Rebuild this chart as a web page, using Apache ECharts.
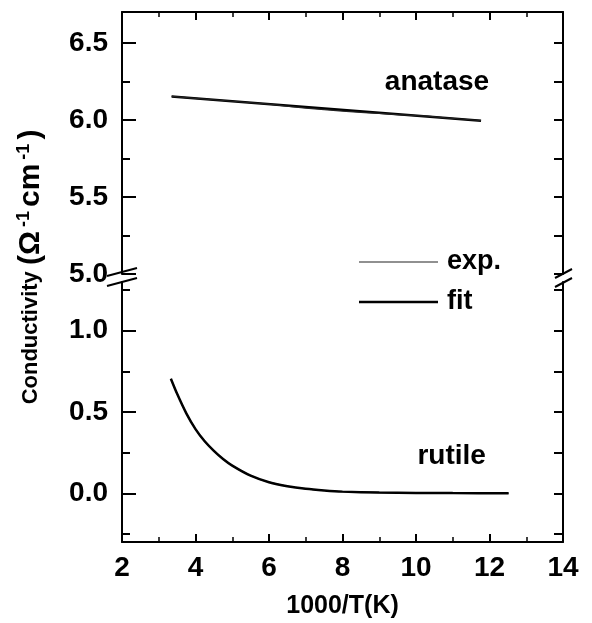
<!DOCTYPE html>
<html><head><meta charset="utf-8">
<script src="https://cdn.jsdelivr.net/npm/echarts@6/dist/echarts.min.js"></script>
<style>html,body{margin:0;padding:0;background:#fff}#c{width:592px;height:623px}</style>
</head><body><div id="c"></div>
<script>
// ---- data ----
const xTickLabels = [2, 4, 6, 8, 10, 12, 14];
const yUpperMajor = [5.0, 5.5, 6.0, 6.5];
const yUpperMinor = [5.25, 5.75, 6.25];
const yLowerMajor = [0.0, 0.5, 1.0];
const yLowerMinor = [-0.25, 0.25, 0.75, 1.25];

const anataseFitX = [3.35, 11.77];
const anataseFitY = [6.151, 5.995];
const anataseExpX = [3.35, 4.0, 5.0, 6.0, 6.6, 7.0, 7.5, 8.0, 8.6, 9.0, 9.5, 10.0, 10.3, 10.8, 11.3, 11.77];
const anataseExpY = [6.152, 6.140, 6.121, 6.102, 6.086, 6.076, 6.066, 6.057, 6.047, 6.042, 6.034, 6.028, 6.025, 6.013, 6.004, 5.995];

const rutileX = [3.33, 3.5, 3.75, 4.0, 4.25, 4.5, 4.75, 5.0, 5.5, 6.0, 6.5, 7.0, 7.5, 8.0, 9.0, 10.0, 11.0, 12.52];
const rutileFitY = [0.705, 0.612, 0.492, 0.395, 0.320, 0.261, 0.211, 0.170, 0.108, 0.068, 0.043, 0.027, 0.017, 0.010, 0.004, 0.002, 0.001, 0.0];
const rutileExpY = [0.705, 0.612, 0.492, 0.395, 0.320, 0.261, 0.211, 0.170, 0.108, 0.068, 0.043, 0.027, 0.017, 0.010, 0.004, 0.002, 0.001, 0.0];

const seriesNames = ['exp.', 'fit'];
const panelLabels = ['anatase', 'rutile'];

// ---- chart ----
const FONT = 'Liberation Sans, Arial, sans-serif';
const BLACK = '#000';
const zip = (xs, ys) => xs.map((x, i) => [x, ys[i]]);

const chart = echarts.init(document.getElementById('c'), null, {renderer: 'canvas'});

function xAx(grid, pos, labels) {
  return {
    type: 'value', gridIndex: grid, position: pos, min: 2, max: 14, interval: 2,
    axisLine: {show: true, onZero: false, lineStyle: {color: BLACK, width: 2}},
    axisTick: {show: true, inside: true, length: 8, lineStyle: {color: BLACK, width: 2}},
    minorTick: {show: true, splitNumber: 2, length: 5, lineStyle: {color: BLACK, width: 1.5}},
    axisLabel: labels ? {show: true, color: BLACK, fontFamily: FONT, fontWeight: 'bold', fontSize: 28, margin: 12,
      formatter: v => (xTickLabels.indexOf(v) >= 0 ? String(v) : '')} : {show: false},
    splitLine: {show: false}, minorSplitLine: {show: false},
    name: labels ? '1000/T(K)' : '', nameLocation: 'middle', nameGap: 52,
    nameTextStyle: {color: BLACK, fontFamily: FONT, fontWeight: 'bold', fontSize: 25}
  };
}
function yAx(grid, pos, min, max, vals, len, labels, line) {
  return {
    type: 'value', gridIndex: grid, position: pos, min: min, max: max,
    axisLine: {show: line, onZero: false, lineStyle: {color: BLACK, width: 2}},
    axisTick: {show: true, inside: true, length: len, customValues: vals, lineStyle: {color: BLACK, width: 2}},
    axisLabel: labels ? {show: true, customValues: vals, color: BLACK, fontFamily: FONT, fontWeight: 'bold', fontSize: 28, margin: 14,
      formatter: v => Number(v).toFixed(1)} : {show: false},
    splitLine: {show: false}
  };
}

const option = {
  animation: false,
  backgroundColor: '#fff',
  grid: [
    {left: 122, right: 29, top: 12, height: 262},
    {left: 122, right: 29, top: 282, height: 260}
  ],
  xAxis: [xAx(0, 'top', false), xAx(1, 'bottom', true)],
  yAxis: [
    yAx(0, 'left', 5.0, 6.7, yUpperMajor, 14, true, true),
    yAx(0, 'left', 5.0, 6.7, yUpperMinor, 8, false, false),
    yAx(0, 'right', 5.0, 6.7, yUpperMajor.concat(yUpperMinor), 9, false, true),
    yAx(1, 'left', -0.3, 1.3, yLowerMajor, 14, true, true),
    yAx(1, 'left', -0.3, 1.3, yLowerMinor, 8, false, false),
    yAx(1, 'right', -0.3, 1.3, yLowerMajor.concat(yLowerMinor), 9, false, true)
  ],
  series: [
    {name: seriesNames[1], type: 'line', xAxisIndex: 0, yAxisIndex: 0, data: zip(anataseFitX, anataseFitY),
      showSymbol: false, symbol: 'none', lineStyle: {color: BLACK, width: 2.5}},
    {name: seriesNames[0], type: 'line', xAxisIndex: 0, yAxisIndex: 0, data: zip(anataseExpX, anataseExpY),
      showSymbol: false, symbol: 'none', lineStyle: {color: '#222', width: 1.2}},
    {name: seriesNames[0], type: 'line', xAxisIndex: 1, yAxisIndex: 3, data: zip(rutileX, rutileExpY),
      showSymbol: false, symbol: 'none', smooth: 0.25, lineStyle: {color: '#222', width: 1.2}},
    {name: seriesNames[1], type: 'line', xAxisIndex: 1, yAxisIndex: 3, data: zip(rutileX, rutileFitY),
      showSymbol: false, symbol: 'none', smooth: 0.25, lineStyle: {color: BLACK, width: 2.5}}
  ]
};
chart.setOption(option);

// ---- decorations: break marks, legend, labels, y title ----
const pUp = (x, y) => chart.convertToPixel({xAxisIndex: 0, yAxisIndex: 0}, [x, y]);
const pLo = (x, y) => chart.convertToPixel({xAxisIndex: 1, yAxisIndex: 3}, [x, y]);
const brkTop = pUp(2, 5.0), brkBot = pLo(2, 1.3);
const rTop = pUp(14, 5.0), rBot = pLo(14, 1.3);
const lx = brkTop[0], rx = rTop[0];
const line = (x1, y1, x2, y2, w, c) => ({type: 'line', z: 100, shape: {x1, y1, x2, y2}, style: {stroke: c || BLACK, lineWidth: w}});
const txt = (x, y, s, size, align) => ({type: 'text', z: 100, x, y, style: {text: s, fill: BLACK, font: 'bold ' + size + 'px ' + FONT, textAlign: align || 'center', textVerticalAlign: 'middle'}});

const gfx = [
  {type: 'rect', z: 99, shape: {x: lx - 3, y: brkTop[1] + 1, width: 6, height: brkBot[1] - brkTop[1] - 2}, style: {fill: '#fff'}},
  {type: 'rect', z: 99, shape: {x: rx - 3, y: rTop[1] + 1, width: 6, height: rBot[1] - rTop[1] - 2}, style: {fill: '#fff'}},
  line(lx - 15, brkTop[1] + 2, lx + 15, brkTop[1] - 6, 2),
  line(lx - 15, brkBot[1] + 4, lx + 15, brkBot[1] - 4, 2),
  line(rx - 8, rTop[1] + 4, rx + 9, rTop[1] - 5, 2),
  line(rx - 8, rBot[1] + 5, rx + 9, rBot[1] - 4, 2),
  // legend
  line(359, 262, 438, 262, 1.2, '#222'),
  line(359, 302, 438, 302, 2.5),
  txt(447, 262, seriesNames[0], 27, 'left'),
  txt(447, 302, seriesNames[1], 27, 'left'),
  // panel labels
  (function(){ const p = pUp(10.57, 6.247); return txt(p[0], p[1], panelLabels[0], 28); })(),
  (function(){ const p = pLo(10.97, 0.227); return txt(p[0], p[1], panelLabels[1], 28); })(),
  // y title
  {type: 'text', z: 100, x: 31, y: 267, rotation: Math.PI / 2,
    style: {
      text: '{a|Conductivity }{b|(Ω}{sup|-1}{b|cm}{sup|-1}{b|)}',
      fill: BLACK, textAlign: 'center', textVerticalAlign: 'middle',
      rich: {
        a: {fontSize: 22, fontWeight: 'bold', fontFamily: FONT, fill: BLACK, lineHeight: 32},
        b: {fontSize: 30, fontWeight: 'bold', fontFamily: FONT, fill: BLACK, lineHeight: 32},
        sup: {fontSize: 18, fontWeight: 'bold', fontFamily: FONT, fill: BLACK, verticalAlign: 'top', lineHeight: 18, padding: [0, 4, 0, 4]}
      }
    }}
];
chart.setOption({graphic: gfx});
</script>
</body></html>
